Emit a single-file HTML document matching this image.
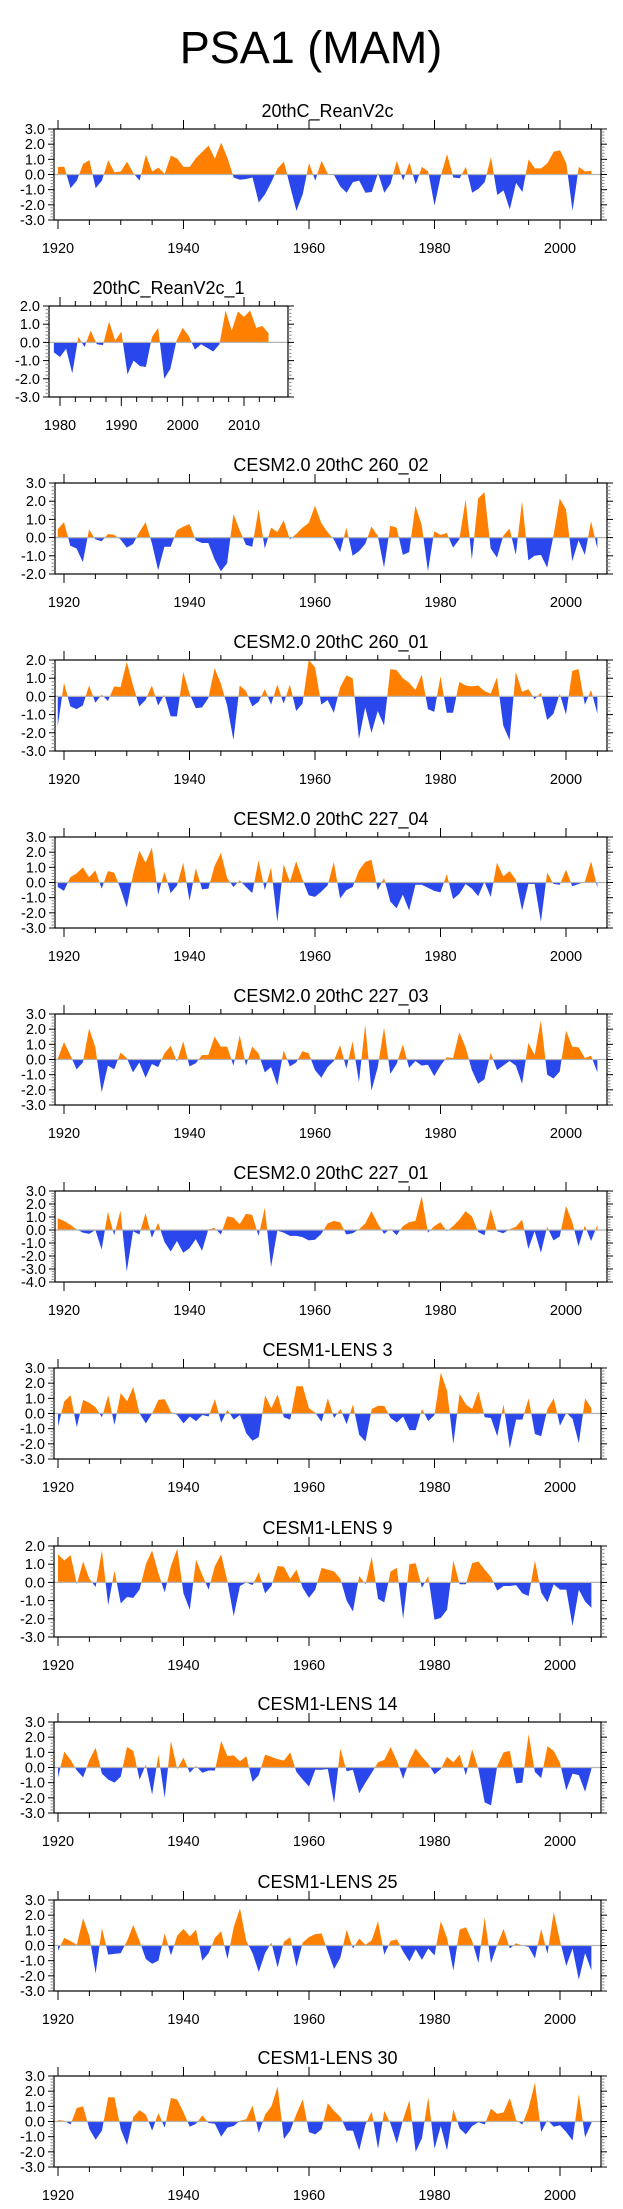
<!DOCTYPE html>
<html><head><meta charset="utf-8"><style>
html,body{margin:0;padding:0;background:#fff;}
svg{display:block;font-family:"Liberation Sans",sans-serif;}
</style></head><body>
<svg id="fig" width="623" height="2209" viewBox="0 0 623 2209" xmlns="http://www.w3.org/2000/svg">
<text x="311" y="63" font-size="45" text-anchor="middle" fill="#000">PSA1 (MAM)</text>
</svg>
<script>
const titles = ["20thC_ReanV2c","20thC_ReanV2c_1","CESM2.0 20thC 260_02","CESM2.0 20thC 260_01","CESM2.0 20thC 227_04","CESM2.0 20thC 227_03","CESM2.0 20thC 227_01","CESM1-LENS 3","CESM1-LENS 9","CESM1-LENS 14","CESM1-LENS 25","CESM1-LENS 30"];
const startYears = [1920,1979,1919,1919,1919,1919,1919,1920,1920,1920,1920,1920];
const yMins = [-3,-3,-2,-3,-3,-3,-4,-3,-3,-3,-3,-3];
const yMaxs = [3,2,3,2,3,3,3,3,2,3,3,3];
const s1 = [0.5,0.5,-0.9,-0.4,0.7,0.95,-0.9,-0.4,0.95,0.15,0.2,0.85,0.1,-0.4,1.3,0.2,0.45,0.05,1.25,1.05,0.5,0.5,1.1,1.5,1.9,1.05,2.1,1.1,-0.2,-0.35,-0.3,-0.2,-1.85,-1.3,-0.5,0.4,0.85,-0.8,-2.4,-1.3,0.75,-0.4,0.9,0.05,-0.05,-0.8,-1.2,-0.5,-0.4,-1.2,-1.15,0.1,-1.2,-0.6,0.9,-0.4,0.8,-0.65,0.5,0.2,-2.05,-0.1,1.35,-0.2,-0.25,0.5,-1.2,-0.95,-0.5,1.15,-1.35,-1.05,-2.3,-0.55,-1.15,1.0,0.4,0.4,0.75,1.5,1.6,0.75,-2.4,0.5,0.2,0.25];
const s2 = [-0.55,-0.8,-0.35,-1.7,0.3,-0.25,0.65,-0.1,-0.15,1.15,0.1,0.6,-1.75,-1.0,-1.3,-1.35,0.3,0.8,-2.0,-1.45,0.1,0.8,0.35,-0.4,-0.1,-0.3,-0.5,-0.1,1.75,0.65,1.7,1.4,1.75,0.8,0.9,0.5];
const s3 = [0.45,0.85,-0.45,-0.6,-1.35,0.45,-0.1,-0.2,0.2,0.15,-0.1,-0.55,-0.35,0.3,0.85,-0.3,-1.8,-0.5,-0.5,0.4,0.6,0.75,-0.15,-0.3,-0.3,-1.2,-1.85,-1.4,1.3,0.4,-0.4,-0.5,1.55,-0.6,0.55,0.3,0.95,-0.1,0.2,0.55,0.8,1.75,0.8,0.3,-0.1,-0.8,0.55,-1.0,-0.75,-0.35,0.6,0.1,-1.65,0.65,0.55,-0.95,-0.8,1.75,0.7,-1.85,0.35,0.15,0.25,-0.55,-0.1,2.1,-1.2,2.15,2.5,-0.6,-1.1,0.1,0.5,-0.95,2.0,-1.25,-1.0,-0.95,-1.65,0.1,2.15,1.55,-1.3,-0.15,-0.95,0.9,-0.6];
const s4 = [-1.65,0.75,-0.55,-0.7,-0.5,0.6,-0.35,0.1,-0.25,0.55,0.5,1.9,0.6,-0.55,-0.2,0.6,-0.5,0.1,-1.1,-1.1,1.35,0.15,-0.65,-0.6,-0.1,1.55,0.7,-0.5,-2.4,0.6,0.3,-0.55,-0.3,0.4,-0.45,0.65,-0.4,0.65,-0.8,-0.4,2.0,1.6,-0.45,-0.2,-0.9,0.5,1.15,1.0,-2.35,-0.6,-2.0,-0.8,-1.6,1.5,1.45,1.0,0.75,0.35,1.2,-0.7,-0.85,1.1,-0.9,-0.9,0.8,0.6,0.55,0.6,0.3,0.15,1.05,-1.6,-2.4,1.35,0.25,0.4,-0.15,0.2,-1.3,-0.95,0.15,-1.0,1.4,1.5,-0.45,0.35,-0.95];
const s5 = [-0.3,-0.55,0.35,0.6,1.0,0.35,0.8,-0.4,0.75,0.65,-0.4,-1.65,0.5,2.1,1.3,2.3,-0.8,0.7,-0.7,-0.2,1.3,-1.2,0.95,-0.45,-0.4,1.1,1.95,0.3,-0.3,0.15,-0.3,-0.7,1.45,-0.5,1.0,-2.6,1.2,0.05,1.4,0.2,-0.85,-0.95,-0.6,-0.2,1.35,-1.05,-0.5,-0.3,0.8,1.35,1.5,-0.5,0.3,-1.25,-1.7,-0.8,-1.85,-0.15,-0.15,-0.35,-0.55,-0.65,0.55,-1.1,-0.75,-0.1,-0.4,-0.9,0.05,-0.95,1.3,0.4,0.75,0.2,-1.85,-0.1,-0.1,-2.6,0.65,-0.1,-0.15,0.85,-0.25,-0.1,0.05,1.4,-0.35];
const s6 = [0.05,1.15,0.3,-0.65,-0.2,2.05,0.8,-2.15,-0.4,-0.65,0.45,0.1,-0.85,-0.2,-1.2,-0.3,-0.5,0.4,0.9,-0.15,1.2,-0.45,-0.25,0.3,0.3,1.5,0.85,0.85,-0.4,1.6,-0.4,0.85,0.4,-0.85,-0.5,-1.7,0.6,-0.45,-0.2,0.55,0.4,-0.7,-1.2,-0.5,-0.1,0.95,-0.6,1.2,-1.5,2.3,-2.05,-0.5,2.1,-0.95,-0.3,1.0,-0.55,-0.1,-0.4,-0.35,-1.1,-0.4,0.15,0.1,1.8,0.8,-0.7,-1.6,-1.3,0.45,-0.7,-0.4,-0.1,-0.4,-1.6,1.1,0.3,2.6,-1.0,-1.25,-0.8,1.9,0.85,0.8,0.1,0.25,-0.85];
const s7 = [0.9,0.7,0.4,0.05,-0.2,-0.3,0.0,-1.5,1.4,-0.4,1.5,-3.2,-0.1,-0.35,1.3,-0.6,0.55,-0.9,-1.65,-0.85,-1.75,-1.4,-0.7,-1.6,0.05,0.15,-0.35,1.05,0.95,0.45,1.25,1.15,-0.45,1.7,-2.85,-0.05,-0.2,-0.45,-0.45,-0.55,-0.8,-0.75,-0.3,0.5,0.7,0.6,-0.35,-0.25,0.05,0.5,1.45,0.5,-0.3,0.1,-0.4,0.3,0.6,0.7,2.6,-0.2,0.3,0.6,-0.1,0.3,0.8,1.45,1.05,-0.15,-0.4,1.6,-0.1,-0.25,0.05,0.25,0.8,-1.45,-0.1,-1.75,0.25,-0.8,-0.5,1.85,0.6,-1.25,0.35,-0.85,0.4];
const s8 = [-0.85,0.8,1.2,-0.9,0.9,0.7,0.4,-0.25,1.2,-0.75,1.35,0.8,1.75,0.0,-0.65,0.0,0.9,0.95,0.1,-0.1,-0.65,-0.2,-0.5,-0.1,-0.2,0.95,-0.6,0.25,-0.4,-0.1,-1.3,-1.8,-1.55,1.2,0.35,1.25,-0.25,-0.4,1.8,1.8,0.35,0.05,-0.55,1.0,-0.3,0.3,-0.7,0.6,-1.4,-1.85,0.3,0.5,0.5,-0.3,-0.6,-0.2,-1.1,-1.1,0.3,-0.5,-0.1,2.7,1.5,-2.0,1.3,0.6,0.3,1.45,-0.25,-0.3,-1.5,0.6,-2.3,-0.4,-0.4,1.0,-1.35,-1.5,0.3,1.0,-0.8,0.05,-0.35,-1.95,1.0,0.35];
const s9 = [1.55,1.2,1.5,-0.1,1.15,0.2,-0.25,1.75,-1.25,0.65,-1.15,-0.8,-0.85,-0.4,1.0,1.75,0.5,-0.55,0.9,1.85,-0.6,-1.5,1.25,0.4,-0.4,0.9,1.55,0.05,-1.85,-0.2,0.0,-0.15,0.55,-0.6,-0.2,0.9,0.85,0.2,0.7,-0.3,-0.85,-0.4,0.8,0.7,0.6,0.2,-1.0,-1.6,0.35,-0.1,1.4,-0.9,-1.1,0.6,0.8,-2.0,1.0,1.05,-0.3,0.35,-2.05,-1.95,-1.5,1.2,-0.1,-0.1,1.05,1.15,0.7,0.3,-0.45,-0.2,-0.2,-0.15,-0.6,-0.75,1.2,-0.55,-1.1,-0.1,-0.4,-0.4,-2.4,-0.4,-1.05,-1.4];
const s10 = [-0.65,1.05,0.5,-0.2,-0.65,0.5,1.3,-0.4,-0.8,-1.0,-0.6,1.35,1.1,-0.8,0.2,-1.8,0.85,-2.0,1.75,-0.1,0.65,-0.35,0.1,-0.35,-0.2,-0.2,1.75,0.75,0.8,0.4,0.75,-0.95,-0.5,0.85,0.7,0.55,0.45,1.0,-0.3,-0.8,-1.25,-0.15,-0.15,-0.1,-2.35,1.25,-0.25,-0.15,-1.7,-1.0,-0.35,0.35,0.5,1.35,0.45,-0.75,0.45,1.25,0.7,0.25,-0.45,-0.1,0.7,0.35,0.85,-0.5,1.2,-0.1,-2.3,-2.5,0.1,1.0,1.1,-1.05,-1.0,2.2,-0.3,-0.7,1.4,1.1,0.3,-1.5,-0.4,-0.5,-1.6,-0.1];
const s11 = [-0.35,0.5,0.3,0.05,1.8,0.6,-1.85,1.15,-0.6,-0.55,-0.5,0.3,1.35,0.3,-0.9,-1.2,-1.0,0.8,-0.65,0.65,1.1,0.6,1.05,-1.0,-0.5,0.5,0.95,-0.9,1.2,2.45,0.3,-0.5,-1.75,-0.5,0.2,-1.45,0.25,0.55,-1.4,0.2,0.55,0.75,0.8,-0.4,-1.55,-0.8,1.05,-0.2,0.45,0.05,0.35,1.6,-0.6,0.3,0.4,-0.4,-1.05,-0.25,-0.95,-0.2,-0.65,1.6,0.5,-1.65,1.05,1.2,0.3,-1.15,1.85,-1.15,0.05,1.1,-0.2,0.15,0.0,-0.1,-0.85,1.1,-0.55,2.2,0.3,-1.35,-0.2,-2.25,-0.5,-1.65];
const s12 = [0.1,0.05,-0.2,0.9,1.0,-0.5,-1.2,-0.6,1.6,1.6,-0.5,-1.55,0.3,0.75,0.45,-0.6,0.55,-0.4,1.55,1.45,0.6,-0.35,-0.15,0.4,-0.1,-0.15,-1.0,-0.4,-0.3,0.05,0.15,1.05,-0.75,0.45,1.0,2.3,-1.15,-0.6,0.5,1.45,-0.7,-0.85,-0.5,1.2,0.7,0.3,-0.6,-0.6,-1.9,-0.2,0.65,-1.8,0.7,-0.15,-1.45,0.15,1.4,-2.0,-1.1,1.6,-1.8,-0.3,-1.9,0.8,-0.45,-0.85,-0.3,-0.05,-0.2,0.85,0.5,0.6,1.55,0.1,-0.2,0.9,2.55,-0.7,0.1,-0.35,-0.25,-0.7,-1.25,1.8,-1.05,-0.1];
const series = [s1,s2,s3,s4,s5,s6,s7,s8,s9,s10,s11,s12];

const NS = "http://www.w3.org/2000/svg";
const svg = document.getElementById("fig");
const boxTops = [129,306,483,660,837,1014,1191,1368,1546,1722,1900,2076];
const BOXH = 91;
const ORANGE = "#ff8000", BLUE = "#2a47ec";

function mk(tag, attrs, parent) {
  const e = document.createElementNS(NS, tag);
  for (const k in attrs) e.setAttribute(k, attrs[k]);
  (parent || svg).appendChild(e);
  return e;
}

function axisX(p) {
  if (p === 1) return {left:49, right:288, x: yr => 60 + (yr - 1980) * 6.133, majors:[1980,1990,2000,2010], minorStep:2.5, minorFrom:1977.5};
  if (p >= 2 && p <= 6) return {left:55, right:607, x: yr => 64 + (yr - 1920) * 6.275, majors:[1920,1940,1960,1980,2000], minorStep:5, minorFrom:1915};
  return {left:54, right:601, x: yr => 58 + (yr - 1920) * 6.275, majors:[1920,1940,1960,1980,2000], minorStep:5, minorFrom:1915};
}

for (let p = 0; p < 12; p++) {
  const ax = axisX(p);
  const top = boxTops[p], bot = top + BOXH;
  const ymin = yMins[p], ymax = yMaxs[p];
  const y = v => top + (ymax - v) / (ymax - ymin) * BOXH;
  const g = mk("g", {});
  
  

  const title = mk("text", {x:(ax.left + ax.right) / 2, y: top - 12, "font-size":18, "text-anchor":"middle", fill:"#000"}, g);
  title.textContent = titles[p];
  
  

  // area path
  const vals = series[p];
  const y0 = y(0);
  let d = "M" + ax.x(startYears[p]).toFixed(2) + "," + y0.toFixed(2);
  vals.forEach((v, i) => { d += " L" + ax.x(startYears[p] + i).toFixed(2) + "," + y(v).toFixed(2); });
  d += " L" + ax.x(startYears[p] + vals.length - 1).toFixed(2) + "," + y0.toFixed(2) + " Z";
  const cpA = mk("clipPath", {id:"ca" + p}, g);
  mk("rect", {x:ax.left, y:top, width:ax.right - ax.left, height:y0 - top}, cpA);
  const cpB = mk("clipPath", {id:"cb" + p}, g);
  mk("rect", {x:ax.left, y:y0, width:ax.right - ax.left, height:bot - y0}, cpB);
  const pa = mk("path", {d:d, fill:ORANGE, "clip-path":"url(#ca" + p + ")"}, g);
  
  
  const pb = mk("path", {d:d, fill:BLUE, "clip-path":"url(#cb" + p + ")"}, g);
  
  
  const zl = mk("line", {x1:ax.left, x2:ax.right, y1:y0, y2:y0, stroke:"#b4b4b4", "stroke-width":1.2}, g);
  
  

  // box
  const box = mk("rect", {x:ax.left, y:top, width:ax.right - ax.left, height:BOXH, fill:"none", stroke:"#000", "stroke-width":1.2}, g);
  
  

  // y ticks
  for (let v = ymin; v <= ymax + 1e-6; v += 0.2) {
    const vv = Math.round(v * 10) / 10;
    const yy = y(vv);
    const major = Math.abs(vv - Math.round(vv)) < 1e-6;
    const len = major ? 6 : 3.5;
    const col = major ? "#000" : "#888";
    mk("line", {x1:ax.left - len, x2:ax.left, y1:yy, y2:yy, stroke:col, "stroke-width":1}, g);
    mk("line", {x1:ax.right, x2:ax.right + len, y1:yy, y2:yy, stroke:col, "stroke-width":1}, g);
    if (major) {
      const t = mk("text", {x:ax.left - 9, y:yy + 5, "font-size":14.5, "text-anchor":"end", fill:"#000"}, g);
      t.textContent = vv.toFixed(1);
      
      
    }
  }
  // x ticks
  for (let yr = ax.minorFrom; ax.x(yr) <= ax.right; yr += ax.minorStep) {
    const xx = ax.x(yr);
    if (xx < ax.left) continue;
    const major = ax.majors.indexOf(yr) >= 0;
    const len = major ? 9 : 5;
    mk("line", {x1:xx, x2:xx, y1:top - len, y2:top, stroke:"#000", "stroke-width":1}, g);
    mk("line", {x1:xx, x2:xx, y1:bot, y2:bot + len, stroke:"#000", "stroke-width":1}, g);
  }
  ax.majors.forEach(yr => {
    const t = mk("text", {x:ax.x(yr), y:bot + 33, "font-size":14.5, "text-anchor":"middle", fill:"#000"}, g);
    t.textContent = String(yr);
    
    
  });
}
</script>
</body></html>
